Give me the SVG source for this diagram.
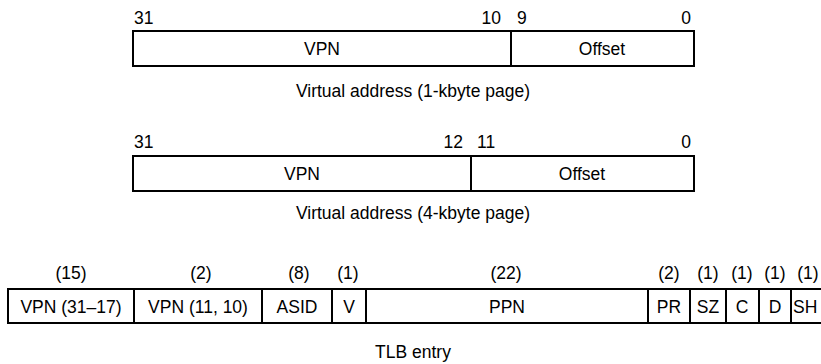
<svg xmlns="http://www.w3.org/2000/svg" width="821" height="364" viewBox="0 0 821 364">
<style>
text{font-family:"Liberation Sans",Arial,sans-serif;font-size:17.5px;fill:#000}
.m{text-anchor:middle}
.e{text-anchor:end}
.b{fill:#fff;stroke:#000;stroke-width:2}
.l{stroke:#000;stroke-width:2}
</style>
<rect width="821" height="364" fill="#fff"/>
<g id="va1">
<text x="134" y="24">31</text>
<text x="501" y="24" class="e">10</text>
<text x="517" y="24">9</text>
<text x="691" y="24" class="e">0</text>
<rect class="b" x="133" y="31" width="561" height="35"/>
<line class="l" x1="511" y1="31" x2="511" y2="66"/>
<text x="322" y="55" class="m">VPN</text>
<text x="602" y="55" class="m">Offset</text>
<text x="413" y="97" class="m">Virtual address (1-kbyte page)</text>
</g>
<g id="va4">
<text x="134" y="148">31</text>
<text x="463" y="148" class="e">12</text>
<text x="477" y="148">11</text>
<text x="691" y="148" class="e">0</text>
<rect class="b" x="133" y="156" width="561" height="35"/>
<line class="l" x1="471" y1="156" x2="471" y2="191"/>
<text x="302" y="180" class="m">VPN</text>
<text x="582" y="180" class="m">Offset</text>
<text x="413" y="219" class="m">Virtual address (4-kbyte page)</text>
</g>
<g id="tlb">
<text x="71" y="279" class="m">(15)</text>
<text x="201" y="279" class="m">(2)</text>
<text x="299" y="279" class="m">(8)</text>
<text x="348" y="279" class="m">(1)</text>
<text x="506" y="279" class="m">(22)</text>
<text x="669" y="279" class="m">(2)</text>
<text x="708" y="279" class="m">(1)</text>
<text x="742" y="279" class="m">(1)</text>
<text x="775" y="279" class="m">(1)</text>
<text x="808" y="279" class="m">(1)</text>
<rect class="b" x="8" y="289" width="816" height="34"/>
<line class="l" x1="134" y1="289" x2="134" y2="323"/>
<line class="l" x1="262" y1="289" x2="262" y2="323"/>
<line class="l" x1="332" y1="289" x2="332" y2="323"/>
<line class="l" x1="366" y1="289" x2="366" y2="323"/>
<line class="l" x1="648" y1="289" x2="648" y2="323"/>
<line class="l" x1="690" y1="289" x2="690" y2="323"/>
<line class="l" x1="726" y1="289" x2="726" y2="323"/>
<line class="l" x1="759" y1="289" x2="759" y2="323"/>
<line class="l" x1="791" y1="289" x2="791" y2="323"/>
<text x="71" y="313" class="m">VPN (31–17)</text>
<text x="198" y="313" class="m">VPN (11, 10)</text>
<text x="297" y="313" class="m">ASID</text>
<text x="349" y="313" class="m">V</text>
<text x="507" y="313" class="m">PPN</text>
<text x="669" y="313" class="m">PR</text>
<text x="708" y="313" class="m">SZ</text>
<text x="742" y="313" class="m">C</text>
<text x="775" y="313" class="m">D</text>
<text x="793" y="313">SH</text>
<text x="413" y="358" class="m">TLB entry</text>
</g>
</svg>
